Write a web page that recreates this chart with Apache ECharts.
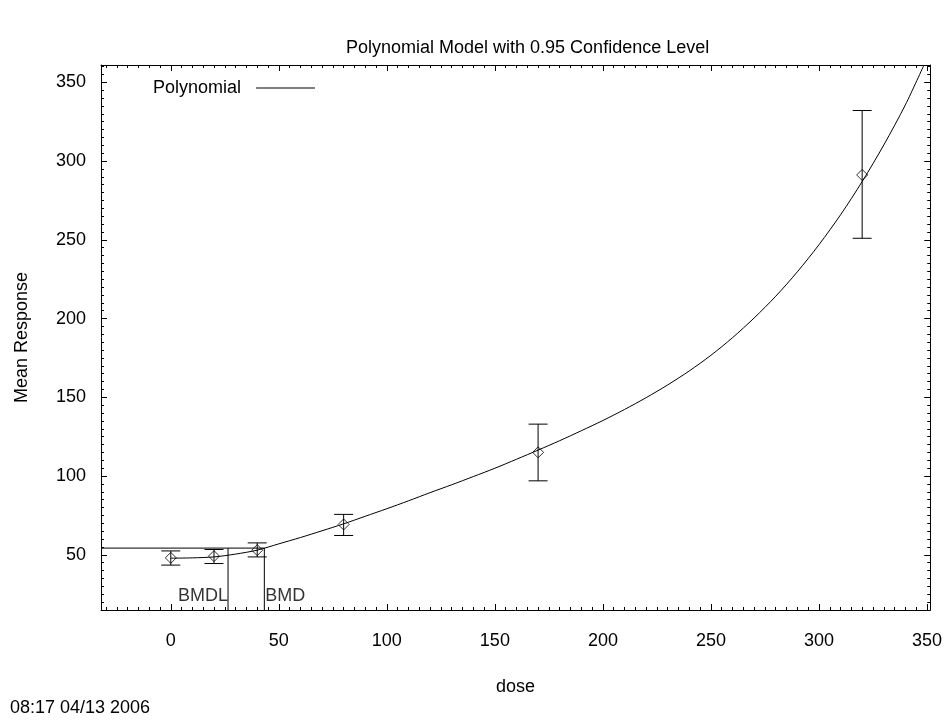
<!DOCTYPE html>
<html>
<head>
<meta charset="utf-8">
<script src="https://cdn.jsdelivr.net/npm/echarts@6/dist/echarts.min.js"></script>
<style>
html,body{margin:0;padding:0;background:#fff;}
#chart{width:945px;height:725px;}
</style>
</head>
<body>
<div id="chart"></div>
<script>
// ---- data ----
const doses = [0, 20, 40, 80, 170, 320];
const means = [48.1, 49.2, 53.0, 69.3, 115.1, 291.2];
const lowerCI = [43.5, 44.5, 48.7, 62.3, 97.0, 251.0];
const upperCI = [52.5, 53.4, 57.6, 75.7, 133.0, 332.1];

// fitted polynomial curve
const curveDose = [0, 10, 20, 30, 40, 50, 60, 70, 80, 90, 100, 110, 120, 130, 140, 150, 160, 170,
                   180, 190, 200, 210, 220, 230, 240, 250, 260, 270, 280, 290, 300, 310, 320, 330, 340, 348.6];
const curveVal  = [47.9, 48.1, 48.7, 50.5, 53.0, 57.0, 61.0, 65.3, 69.7, 74.5, 79.3, 84.3, 89.5, 94.5, 99.7, 105.0, 110.7, 116.5,
                   122.5, 128.8, 135.3, 142.3, 149.8, 157.9, 166.8, 176.7, 187.9, 200.4, 214.2, 229.7, 246.9, 265.9, 287.0, 310.2, 335.7, 361.0];

const bmr = 54.3;
const bmd = 43.3;
const bmdl = 26.5;

const xMin = -32.3, xMax = 351.5;
const yMin = 15, yMax = 361;
const xMajorTicks = [0, 50, 100, 150, 200, 250, 300, 350];
const yMajorTicks = [50, 100, 150, 200, 250, 300, 350];

const titleText = 'Polynomial Model with 0.95 Confidence Level';
const xName = 'dose';
const yName = 'Mean Response';
const stamp = '08:17 04/13 2006';

// ---- build ----
const xMinorTicks = [];
for (let v = -30; v <= xMax; v += 5) xMinorTicks.push(v);
const yMinorTicks = [];
for (let v = 15; v <= yMax; v += 5) yMinorTicks.push(v);

const FONT = "'Liberation Sans', Arial, sans-serif";
const black = '#000';

function mkX(pos, ticks, len, showLine, showLabel, extra) {
  return Object.assign({
    type: 'value', min: xMin, max: xMax, position: pos,
    axisLine: {show: showLine, onZero: false, lineStyle: {color: black, width: 1}},
    axisTick: {show: true, inside: true, length: len, customValues: ticks, lineStyle: {color: black, width: 1}},
    axisLabel: showLabel ? {show: true, customValues: xMajorTicks, color: black, fontSize: 18, fontFamily: FONT, margin: 22} : {show: false},
    splitLine: {show: false}
  }, extra || {});
}
function mkY(pos, ticks, len, showLine, showLabel, extra) {
  return Object.assign({
    type: 'value', min: yMin, max: yMax, position: pos,
    axisLine: {show: showLine, onZero: false, lineStyle: {color: black, width: 1}},
    axisTick: {show: true, inside: true, length: len, customValues: ticks, lineStyle: {color: black, width: 1}},
    axisLabel: showLabel ? {show: true, customValues: yMajorTicks, color: black, fontSize: 18, fontFamily: FONT, margin: 15} : {show: false},
    splitLine: {show: false}
  }, extra || {});
}

const errData = doses.map((d, i) => [d, lowerCI[i], upperCI[i]]);
const ptData = doses.map((d, i) => [d, means[i]]);
const curveData = curveDose.map((d, i) => [d, curveVal[i]]);

const lblStyle = {fontSize: 18, color: black, fontFamily: FONT};

const chart = echarts.init(document.getElementById('chart'), null, {renderer: 'canvas'});
chart.setOption({
  animation: false,
  backgroundColor: '#fff',
  textStyle: {fontFamily: FONT},
  title: {
    text: titleText, left: 341, top: 34,
    textStyle: {fontSize: 18, fontWeight: 'normal', color: black, fontFamily: FONT}
  },
  legend: {
    left: 148, top: 74, align: 'right',
    itemWidth: 59, itemHeight: 14, itemGap: 10,
    textStyle: {fontSize: 18, color: black, fontFamily: FONT, padding: [0, 10, 0, 0]},
    data: [{name: 'Polynomial', icon: 'path://M0,7L59,7L59,8L0,8Z', itemStyle: {color: black}}]
  },
  grid: {left: 101, right: 13, top: 65, bottom: 115, containLabel: false},
  xAxis: [
    mkX('bottom', xMajorTicks, 6, true, true, {
      name: xName, nameLocation: 'middle', nameGap: 68,
      nameTextStyle: {fontSize: 18, color: black, fontFamily: FONT}
    }),
    mkX('bottom', xMinorTicks, 3, false, false),
    mkX('top', xMajorTicks, 6, true, false),
    mkX('top', xMinorTicks, 3, false, false)
  ],
  yAxis: [
    mkY('left', yMajorTicks, 6, true, true, {
      name: yName, nameLocation: 'middle', nameGap: 70, nameRotate: 90,
      nameTextStyle: {fontSize: 18, color: black, fontFamily: FONT}
    }),
    mkY('left', yMinorTicks, 3, false, false),
    mkY('right', yMajorTicks, 6, true, false),
    mkY('right', yMinorTicks, 3, false, false)
  ],
  series: [
    {
      name: 'Polynomial', type: 'line', data: curveData, smooth: 0.3,
      showSymbol: false, symbol: 'none', clip: true,
      lineStyle: {color: black, width: 1}, z: 3
    },
    {
      name: 'bmrH', type: 'line', data: [[xMin, bmr], [bmd, bmr], [bmd, yMin]],
      showSymbol: false, symbol: 'none', lineStyle: {color: black, width: 1}, z: 2
    },
    {
      name: 'bmdlV', type: 'line', data: [[bmdl, bmr], [bmdl, yMin]],
      showSymbol: false, symbol: 'none', lineStyle: {color: black, width: 1}, z: 2
    },
    {
      name: 'labels', type: 'scatter', symbolSize: 0, silent: true,
      data: [
        {value: [bmdl, yMin], label: Object.assign({show: true, formatter: 'BMDL', position: 'inside', align: 'right', verticalAlign: 'bottom', offset: [0, -5]}, lblStyle)},
        {value: [bmd, yMin], label: Object.assign({show: true, formatter: 'BMD', position: 'inside', align: 'left', verticalAlign: 'bottom', offset: [1, -5]}, lblStyle)}
      ]
    },
    {
      name: 'err', type: 'custom', data: errData, z: 4,
      encode: {x: 0, y: [1, 2]},
      renderItem: function (params, api) {
        const x = api.value(0);
        const lo = api.coord([x, api.value(1)]);
        const hi = api.coord([x, api.value(2)]);
        const hw = 9.5;
        const st = {stroke: black, lineWidth: 1};
        return {
          type: 'group',
          children: [
            {type: 'line', shape: {x1: lo[0], y1: lo[1], x2: hi[0], y2: hi[1]}, style: st},
            {type: 'line', shape: {x1: lo[0] - hw, y1: lo[1], x2: lo[0] + hw, y2: lo[1]}, style: st},
            {type: 'line', shape: {x1: hi[0] - hw, y1: hi[1], x2: hi[0] + hw, y2: hi[1]}, style: st}
          ]
        };
      }
    },
    {
      name: 'means', type: 'scatter', data: ptData, symbol: 'diamond', symbolSize: 11,
      itemStyle: {color: 'rgba(0,0,0,0)', borderColor: black, borderWidth: 1}, z: 5
    }
  ],
  graphic: [
    {type: 'text', left: 10, top: 699, style: {text: stamp, fontSize: 18, fill: black, fontFamily: FONT}}
  ]
});
</script>
</body>
</html>
